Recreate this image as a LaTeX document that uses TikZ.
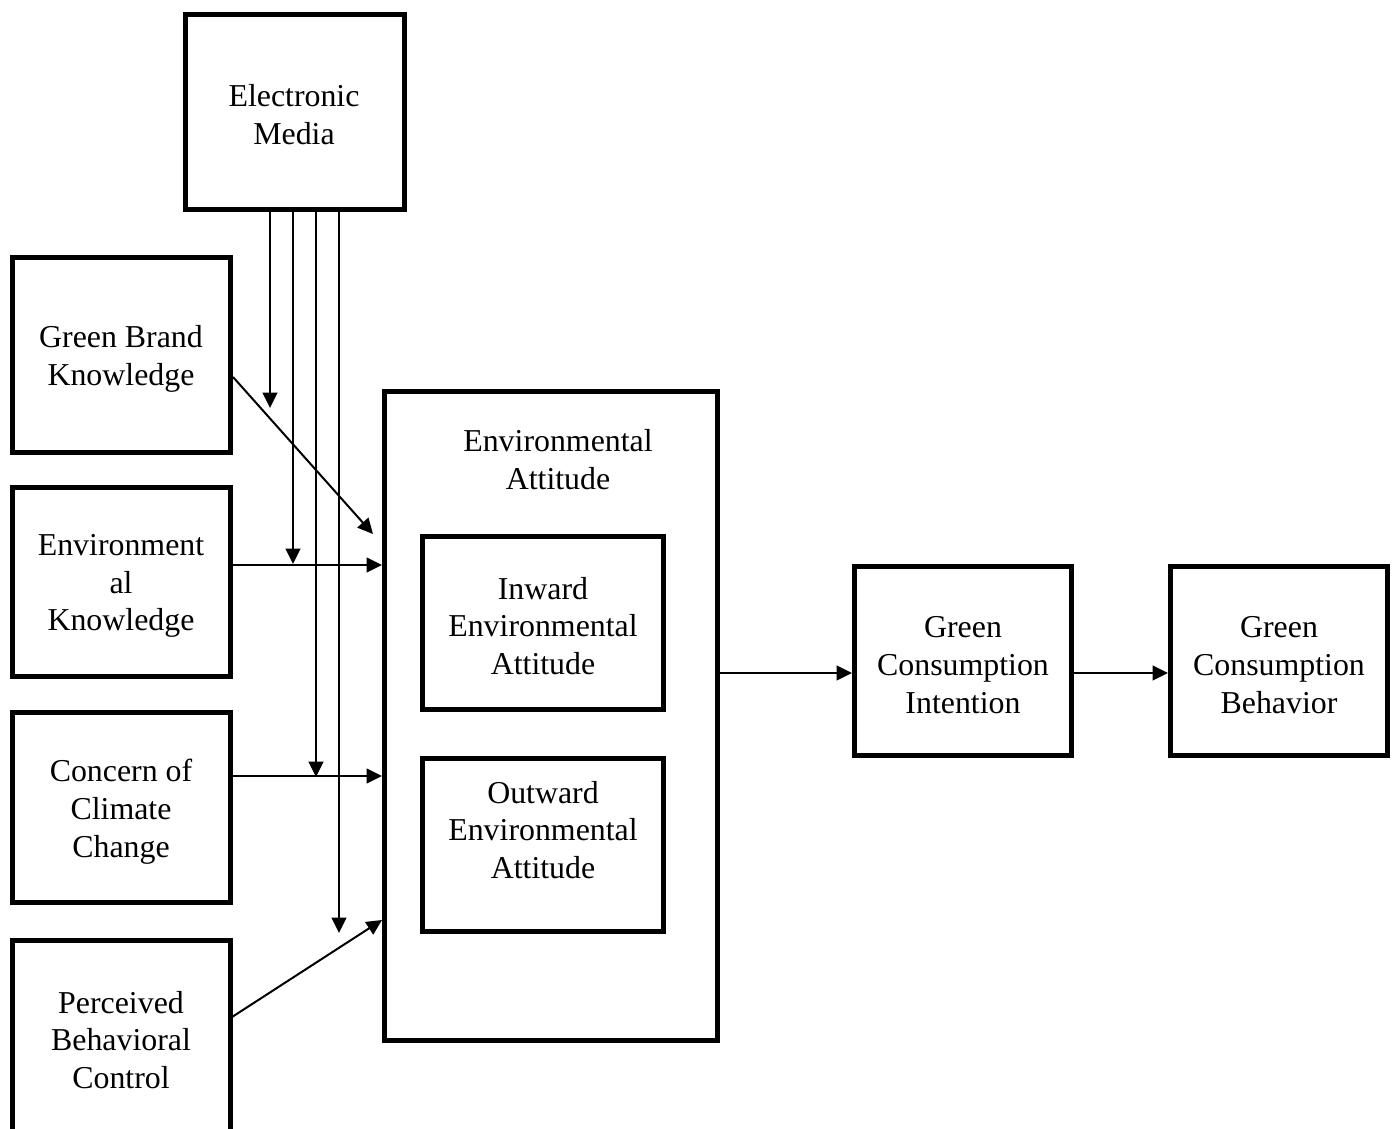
\documentclass[tikz,border=0pt]{standalone}
\usepackage{fontspec}
\setmainfont{Liberation Serif}
\usetikzlibrary{arrows.meta,fit}
\begin{document}
\begin{tikzpicture}[x=0.03cm,y=-0.03cm,
  box/.style={draw=black,line width=4.3pt,inner sep=0pt},
  lbl/.style={align=center,font=\fontsize{27.2}{32.3}\selectfont,inner sep=0pt},
  arr/.style={line width=1.7pt,-{Triangle[length=0.46cm,width=0.44cm]}}]
\useasboundingbox (0,0) rectangle (1397,1129);
% boxes
\node[box,fit={(185.5,14.5) (404.5,209.5)}] (em) {};
\node[box,fit={(12.5,257.5) (230.5,452.5)}] (gbk) {};
\node[box,fit={(12.5,487.5) (230.5,676.5)}] (envk) {};
\node[box,fit={(12.5,712.5) (230.5,902.5)}] (ccc) {};
\draw[line width=4.3pt] (12.5,1129) -- (12.5,940.5) -- (230.5,940.5) -- (230.5,1129);
\coordinate (pbcE) at (230.5,1018);
\node[box,fit={(384.5,391.5) (717.5,1040.5)}] (ea) {};
\node[box,fit={(422.5,536.5) (663.5,709.5)}] (inw) {};
\node[box,fit={(422.5,758.5) (663.5,931.5)}] (outw) {};
\node[box,fit={(854.5,566.5) (1071.5,755.5)}] (gci) {};
\node[box,fit={(1170.5,566.5) (1387.5,755.5)}] (gcb) {};
% labels
\node[lbl] (emT) at (294,115) {Electronic\\Media};
\node[lbl] (gbkT) at (121,359) {Green Brand\\Knowledge};
\node[lbl] (envkT) at (121,586) {Environment\\al\\Knowledge};
\node[lbl] (cccT) at (121,812) {Concern of\\Climate\\Change};
\node[lbl] (pbcT) at (121,1040) {Perceived\\Behavioral\\Control};
\node[lbl] (eaT) at (558,460) {Environmental\\Attitude};
\node[lbl] (inwT) at (543,626) {Inward\\Environmental\\Attitude};
\node[lbl] (outwT) at (543,830) {Outward\\Environmental\\Attitude};
\node[lbl] (gciT) at (963,665) {Green\\Consumption\\Intention};
\node[lbl] (gcbT) at (1279,665) {Green\\Consumption\\Behavior};
% media arrows
\coordinate (t1) at (270,408);
\coordinate (t2) at (293,564);
\coordinate (t3) at (316,777);
\coordinate (t4) at (339,933);
\draw[arr] (270,0 |- em.south) -- (t1);
\draw[arr] (293,0 |- em.south) -- (t2);
\draw[arr] (316,0 |- em.south) -- (t3);
\draw[arr] (339,0 |- em.south) -- (t4);
% predictor arrows
\coordinate (gbkTip) at (373,534);
\draw[arr] (gbk.east |- 0,377) -- (gbkTip);
\draw[arr] (envk.east |- 0,565) -- (ea.west |- 0,565);
\draw[arr] (ccc.east |- 0,776) -- (ea.west |- 0,776);
\draw[arr] (pbcE) -- (ea.west |- 0,920);
% outcome arrows
\draw[arr] (ea.east |- 0,673) -- (gci.west |- 0,673);
\draw[arr] (gci.east |- 0,673) -- (gcb.west |- 0,673);
\end{tikzpicture}
\end{document}
